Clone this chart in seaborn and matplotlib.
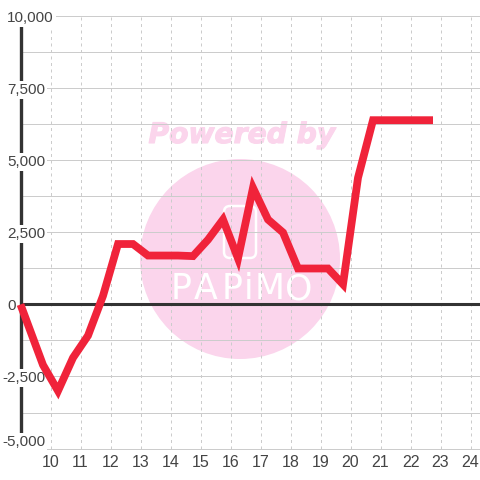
import matplotlib
matplotlib.use("Agg")
import matplotlib.pyplot as plt
import matplotlib.patheffects as pe
from matplotlib.patches import Circle, FancyBboxPatch
from matplotlib.ticker import FixedLocator
import pandas as pd
import seaborn as sns

hours = [9, 9.75, 10.25, 10.75, 11.25, 11.75, 12.25, 12.75, 13.25, 14.25, 14.75,
         15.25, 15.75, 16.25, 16.75, 17.25, 17.75, 18.25, 19.25, 19.75, 20.25,
         20.75, 22.75]
profit = [0, -2100, -3000, -1850, -1080, 300, 2100, 2100, 1700, 1700, 1680,
          2250, 2950, 1600, 4050, 2950, 2500, 1250, 1250, 700, 4400,
          6400, 6400]
x_ticks = list(range(10, 25))
y_ticks = [-5000, -2500, 0, 2500, 5000, 7500, 10000]
y_minor = [-3750, -1250, 1250, 3750, 6250, 8750]

RED = "#f0233a"
DARK = "#333333"
GRID = "#cccccc"
PINK = "#fbd5ec"
TEXT = "#444444"

sns.set_theme(style="white", font="Liberation Sans")
W = 480.0


def px(x, y):
    # pixel position (from top left) to figure fraction
    return x / W, 1 - y / W


df = pd.DataFrame({"hour": hours, "profit": profit})

fig = plt.figure(figsize=(4.8, 4.8), dpi=100, facecolor="white")
ax = fig.add_axes([20.5 / W, 1 - 448.5 / W, (480 - 20.5) / W, (448.5 - 16.5) / W])
ax.set_facecolor("none")

# watermark behind the plot
fx, fy = px(240, 259)
fig.add_artist(Circle((fx, fy), 100 / W, transform=fig.transFigure, fc=PINK, ec="none", zorder=-5))
x0, y0 = px(224, 258)
fig.add_artist(FancyBboxPatch((x0, y0), 32 / W, 52 / W, boxstyle=f"round,pad=0,rounding_size={6 / W}",
                              transform=fig.transFigure, fc="none", ec="white", lw=1.8, zorder=-4))
for ch, cx in zip("PAPiMO", [181, 206, 232, 249, 270, 299]):
    tx, ty = px(cx, 289)
    fig.text(tx, ty, ch, ha="center", va="center", color="white", fontsize=25,
             family="Liberation Sans Narrow", zorder=-4)
tx, ty = px(242, 135)
fig.text(tx, ty, "Powered by", ha="center", va="center", color=PINK, fontsize=20.3,
         family="DejaVu Sans", weight="bold", style="italic", zorder=-4,
         path_effects=[pe.withStroke(linewidth=0.8, foreground=PINK)])

# grid
for v in y_ticks + y_minor:
    if v == 0:
        continue
    xmin = (46 - 20.5) / (480 - 20.5) if v == -5000 else 0
    ax.axhline(v, xmin=xmin, color=GRID, lw=0.72, zorder=1, clip_on=False)
for v in x_ticks:
    ax.axvline(v, color=GRID, lw=0.72, ls=(0, (3, 3.5)), zorder=1)

ax.axhline(0, color=DARK, lw=2.2, zorder=2)
ax.plot([9, 9], [-4650, 9750], color=DARK, lw=2.4, solid_capstyle="butt", zorder=2, clip_on=False)

sns.lineplot(data=df, x="hour", y="profit", color=RED, lw=5.6, ax=ax, zorder=4,
             errorbar=None, estimator=None, solid_joinstyle="miter", solid_capstyle="butt", clip_on=False)

ax.set_xlim(9, 9 + (480 - 20.5) / 30)
ax.set_ylim(-5000, 10000)
ax.set_xlabel("")
ax.set_ylabel("")
sns.despine(ax=ax, left=True, bottom=True, top=True, right=True)
ax.xaxis.set_major_locator(FixedLocator(x_ticks))
ax.set_yticks([])
ax.tick_params(axis="x", length=0, pad=5, labelsize=11.5, labelcolor=TEXT)

# value labels sit on the axis with a white box, the lowest one is pushed up
for v in y_ticks:
    lx = 2 if v < 0 else 7
    dy = 6 if v == -5000 else -1.5
    ax.annotate(f"{v:,}", xy=(9, v), xycoords="data", xytext=(lx - 20.5, dy), textcoords="offset pixels",
                ha="left", va="center", fontsize=11, color=TEXT, zorder=3, annotation_clip=False,
                bbox=dict(fc="white", ec="none", pad=1.5))

fig.savefig("out.png", dpi=100)
